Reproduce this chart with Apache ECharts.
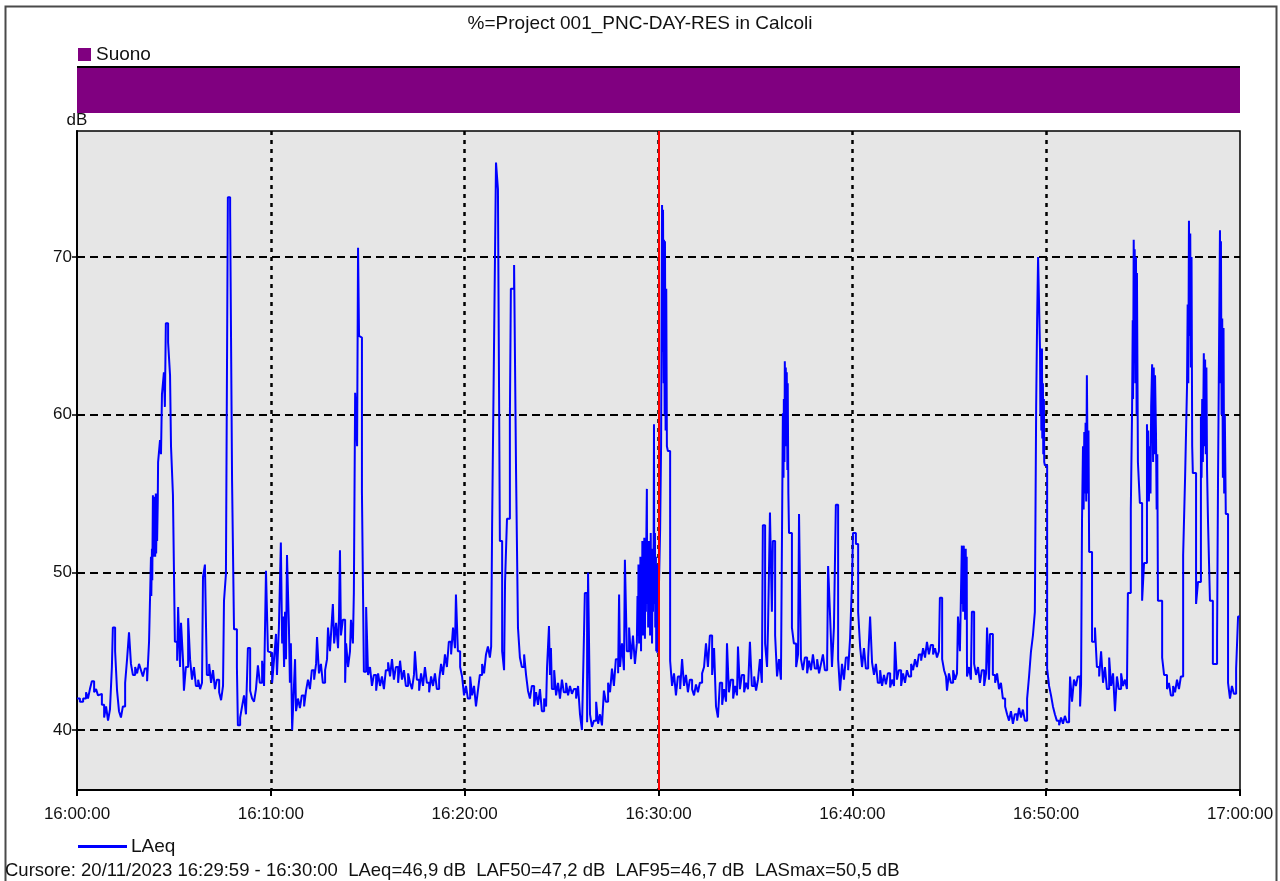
<!DOCTYPE html>
<html>
<head>
<meta charset="utf-8">
<script src="https://cdn.jsdelivr.net/npm/echarts/dist/echarts.min.js"></script>
<style>
  html, body { margin: 0; padding: 0; background: #ffffff; }
  #chart { width: 1280px; height: 881px; }
</style>
</head>
<body>
<div id="chart"></div>
<script>
// LAeq time history, 16:00:00 - 17:00:00, as [seconds after 16:00:00, dB] pairs,
// one array per ten-minute block.
const laeq1600 = [[0,42.0],[9,41.8],[19,42.0],[28,42.4],[34,42.0],[40,42.6],[46,43.1],[53,42.4],[59,42.6],[65,42.2],[71,42.3],[77,41.6],[84,40.8],[90,41.5],[96,40.6],[102,41.3],[108,44.0],[111,46.5],[118,45.0],[124,42.5],[130,41.2],[136,40.8],[142,41.5],[149,43.0],[155,44.5],[161,46.2],[167,44.2],[173,43.5],[180,44.0],[186,43.6],[192,44.2],[198,43.8],[204,43.4],[210,43.9],[217,43.1],[223,45.6],[229,51.0],[230,48.5],[232,51.5],[233,49.5],[235,54.9],[236,51.0],[238,54.5],[239,51.5],[241,54.8],[242,51.0],[244,55.0],[245,51.2],[247,54.0],[248,52.0],[250,54.5],[251,57.0],[257,58.4],[260,57.5],[263,61.3],[269,62.7],[272,60.5],[275,65.8],[282,64.6],[288,62.5],[291,58.0],[297,54.9],[303,45.6],[310,44.4],[313,47.8],[319,44.0],[322,46.8],[328,44.5],[331,42.5],[337,44.0],[344,47.1],[350,44.5],[356,43.2],[362,44.0],[368,42.8],[375,43.2],[381,42.6],[387,43.0],[390,49.7],[396,50.5],[402,43.5],[409,44.2],[415,43.0],[421,43.8],[427,42.6],[433,43.2],[440,42.4],[446,41.9],[452,42.8],[455,48.2],[461,49.9],[467,73.8],[474,72.9],[480,55.8],[486,46.4],[495,44.0],[498,40.3],[505,40.8],[511,41.5],[517,42.2],[523,41.0],[529,45.2],[536,42.5],[542,42.0],[548,41.8],[554,42.6],[560,44.1],[566,43.0],[573,44.4],[579,42.8],[585,50.1],[591,45.0],[597,44.9]];
const laeq1610 = [[604,43.0],[610,44.5],[616,46.1],[619,43.5],[625,46.5],[631,51.9],[635,45.5],[638,47.2],[641,44.0],[644,47.5],[647,44.5],[650,51.1],[656,46.5],[659,43.0],[662,45.5],[666,40.0],[669,41.5],[675,44.5],[678,41.2],[684,42.0],[690,41.4],[696,42.2],[703,41.5],[709,42.5],[715,43.2],[721,42.6],[727,43.8],[734,43.2],[740,44.2],[743,45.9],[749,43.6],[755,44.2],[761,43.0],[768,43.8],[774,44.5],[777,46.5],[783,45.0],[789,47.0],[792,48.0],[796,45.5],[802,46.8],[808,45.2],[811,47.2],[814,51.4],[817,46.0],[823,47.0],[830,43.0],[833,45.5],[839,44.0],[845,45.0],[848,47.0],[854,45.5],[857,48.7],[861,61.4],[867,58.0],[870,70.6],[873,65.0],[876,64.9],[882,55.1],[888,43.7],[895,47.8],[901,43.5],[907,44.0],[913,42.8],[919,43.5],[926,42.5],[932,43.6],[938,42.8],[944,43.4],[950,42.6],[956,43.8],[963,44.3],[969,43.4],[975,44.5],[981,43.2],[987,44.0],[994,43.0],[1000,44.4],[1006,43.2],[1012,43.8],[1018,42.8],[1025,43.6],[1031,43.0],[1037,42.6],[1043,43.5],[1046,45.0],[1052,43.2],[1059,42.5],[1065,43.6],[1071,42.8],[1077,44.0],[1083,43.0],[1090,42.4],[1096,43.4],[1102,42.8],[1108,43.6],[1114,42.6],[1121,43.2],[1127,44.2],[1133,43.5],[1139,44.8],[1145,44.0],[1151,45.6],[1158,44.8],[1164,46.5],[1170,45.2],[1173,48.6],[1179,45.0],[1186,44.0],[1192,43.4],[1198,42.2]];
const laeq1620 = [[1204,42.8],[1210,42.0],[1217,43.4],[1223,42.2],[1229,42.8],[1235,41.5],[1241,42.5],[1247,43.5],[1254,44.2],[1260,43.6],[1266,44.8],[1272,45.3],[1278,44.6],[1282,45.3],[1285,53.1],[1291,64.6],[1297,76.0],[1303,74.3],[1309,52.0],[1316,45.0],[1322,43.8],[1325,49.4],[1331,53.4],[1340,59.8],[1343,68.0],[1353,69.5],[1359,56.5],[1365,46.5],[1371,44.6],[1377,44.0],[1384,44.8],[1390,43.5],[1396,42.5],[1402,42.0],[1408,42.8],[1415,41.5],[1421,42.4],[1427,41.6],[1433,42.6],[1439,41.2],[1446,42.0],[1452,41.5],[1455,44.0],[1461,46.6],[1464,43.5],[1467,45.2],[1470,42.6],[1477,43.8],[1483,42.2],[1489,43.0],[1495,42.0],[1501,43.2],[1507,42.4],[1514,43.0],[1520,42.2],[1526,42.8],[1532,42.3],[1538,42.6],[1545,42.0],[1551,42.8],[1557,41.0],[1563,40.0],[1569,45.7],[1572,48.7],[1579,40.5],[1582,50.0],[1588,41.0],[1594,40.2],[1600,40.6],[1607,41.8],[1613,40.4],[1619,41.0],[1625,40.3],[1631,42.5],[1637,41.8],[1644,43.0],[1650,42.4],[1656,43.9],[1662,42.8],[1668,44.5],[1675,43.6],[1678,48.6],[1681,44.0],[1687,45.5],[1693,43.8],[1696,50.8],[1702,45.0],[1709,46.5],[1715,44.5],[1721,46.0],[1727,44.2],[1733,45.5],[1735,48.5],[1737,46.0],[1738,50.5],[1740,45.5],[1741,49.0],[1743,46.5],[1744,51.0],[1746,45.0],[1747,50.5],[1749,46.5],[1750,52.0],[1752,46.0],[1753,49.5],[1755,47.0],[1756,52.2],[1758,45.8],[1759,50.5],[1761,47.5],[1762,51.5],[1764,55.3],[1765,48.0],[1767,51.8],[1768,46.5],[1770,52.0],[1771,47.5],[1773,51.0],[1774,46.0],[1776,52.5],[1777,47.0],[1779,50.5],[1780,45.5],[1782,51.5],[1783,47.5],[1785,52.0],[1786,59.4],[1787,48.0],[1789,52.5],[1790,46.5],[1792,51.0],[1793,45.0],[1795,50.0],[1796,44.9],[1798,50.5],[1799,46.9]];
const laeq1630 = [[1805,52.7],[1808,58.0],[1811,73.3],[1813,64.0],[1814,73.0],[1816,62.0],[1817,71.1],[1819,60.0],[1820,71.0],[1822,59.0],[1824,68.0],[1826,58.0],[1829,57.7],[1836,44.4],[1842,42.8],[1848,43.6],[1854,42.2],[1860,43.4],[1867,42.6],[1873,44.5],[1879,42.8],[1885,43.5],[1891,42.4],[1897,43.2],[1904,42.6],[1910,42.2],[1916,42.9],[1922,42.4],[1928,43.0],[1935,43.6],[1941,44.0],[1947,45.5],[1953,44.0],[1959,46.0],[1966,43.5],[1972,45.2],[1978,41.5],[1984,40.8],[1990,43.0],[1997,41.6],[2003,42.6],[2009,41.8],[2012,45.5],[2018,42.4],[2024,43.2],[2031,42.0],[2037,42.8],[2043,42.2],[2046,45.3],[2052,42.6],[2058,43.5],[2065,42.4],[2071,43.0],[2077,42.6],[2083,45.6],[2089,42.8],[2096,43.4],[2102,42.5],[2108,43.2],[2114,44.5],[2120,43.0],[2123,53.0],[2130,45.5],[2136,44.0],[2139,46.5],[2145,53.8],[2151,47.5],[2154,52.0],[2161,46.0],[2167,43.4],[2173,44.5],[2179,43.2],[2185,60.1],[2187,56.0],[2188,61.0],[2190,57.0],[2191,63.4],[2193,58.0],[2194,63.0],[2196,59.0],[2197,62.7],[2199,56.5],[2200,62.0],[2202,55.0],[2204,52.5],[2213,46.5],[2219,45.5],[2226,44.0],[2232,44.8],[2235,53.7],[2241,44.5],[2247,43.8],[2253,44.6],[2260,43.6],[2266,44.4],[2272,43.8],[2278,44.8],[2284,43.9],[2291,44.5],[2297,43.6],[2303,44.2],[2309,44.8],[2315,43.8],[2322,44.4],[2325,50.4],[2331,47.3],[2337,44.0],[2343,46.5],[2349,54.3],[2356,44.5],[2362,42.5],[2368,44.2],[2374,43.2],[2380,44.6],[2387,43.8],[2393,45.8]];
const laeq1640 = [[2399,49.4],[2402,52.5],[2411,51.8],[2418,47.5],[2424,45.3],[2430,44.0],[2436,45.2],[2442,43.9],[2449,44.6],[2455,47.2],[2461,44.3],[2467,43.5],[2473,44.2],[2479,43.0],[2486,43.8],[2492,42.8],[2498,43.5],[2504,42.9],[2510,43.6],[2517,42.7],[2523,43.2],[2529,42.8],[2532,45.6],[2538,43.2],[2544,43.8],[2551,42.8],[2557,43.6],[2563,43.0],[2569,43.8],[2575,43.4],[2582,44.2],[2588,43.8],[2594,44.5],[2600,44.0],[2606,44.8],[2613,44.4],[2619,45.2],[2625,44.6],[2631,45.6],[2637,44.8],[2643,45.4],[2650,44.8],[2656,45.2],[2662,44.6],[2668,45.0],[2671,48.4],[2678,44.5],[2684,43.8],[2690,43.4],[2693,42.5],[2699,43.6],[2705,43.0],[2712,43.8],[2718,43.2],[2724,43.6],[2727,47.2],[2733,45.0],[2739,51.7],[2740,48.0],[2742,51.5],[2743,47.5],[2745,51.7],[2746,48.5],[2748,51.2],[2749,47.0],[2751,51.5],[2752,49.0],[2754,51.0],[2755,43.4],[2761,44.0],[2767,43.2],[2770,47.5],[2777,44.2],[2783,43.5],[2789,44.0],[2795,43.0],[2801,43.8],[2808,42.8],[2814,43.6],[2817,46.5],[2823,43.2],[2826,46.1],[2835,43.5],[2842,43.0],[2848,43.6],[2854,42.6],[2860,43.0],[2866,42.0],[2873,41.5],[2879,41.0],[2885,40.6],[2891,41.2],[2897,40.4],[2903,41.0],[2910,40.6],[2916,41.4],[2922,40.8],[2928,41.3],[2934,40.6],[2941,42.0],[2947,43.4],[2953,45.0],[2959,46.0],[2965,47.5],[2969,60.4],[2972,66.0],[2975,70.0],[2981,64.0],[2982,60.0],[2984,63.9],[2985,59.0],[2987,64.2],[2988,58.5],[2990,62.0],[2991,57.5],[2993,61.0],[2994,57.0],[2996,56.8]];
const laeq1650 = [[3003,43.9],[3009,42.8],[3015,42.2],[3021,41.5],[3027,41.0],[3033,40.6],[3040,40.3],[3046,40.8],[3052,40.4],[3058,40.9],[3064,40.5],[3071,41.0],[3074,43.4],[3080,41.8],[3086,43.2],[3092,42.8],[3098,43.4],[3105,41.5],[3108,42.9],[3111,53.4],[3114,58.0],[3116,54.0],[3118,58.9],[3120,55.0],[3122,59.5],[3124,54.5],[3126,62.5],[3129,55.0],[3131,59.0],[3133,51.3],[3142,45.6],[3151,46.5],[3157,44.0],[3164,43.4],[3170,45.0],[3176,43.0],[3182,44.0],[3188,42.6],[3195,44.6],[3201,42.8],[3207,43.6],[3213,41.2],[3219,43.4],[3225,42.6],[3232,43.6],[3238,42.8],[3244,43.2],[3250,42.6],[3253,48.7],[3262,54.0],[3266,60.4],[3268,66.0],[3269,61.0],[3271,71.1],[3273,64.0],[3274,70.5],[3276,62.0],[3278,70.0],[3280,60.0],[3281,69.0],[3284,57.0],[3290,54.4],[3297,48.2],[3303,50.6],[3312,59.4],[3314,55.0],[3316,59.0],[3318,54.5],[3321,58.0],[3323,55.0],[3325,60.5],[3328,63.2],[3331,57.0],[3333,63.0],[3335,57.5],[3337,62.5],[3340,58.7],[3342,54.0],[3344,57.5],[3346,48.2],[3359,44.6],[3365,43.5],[3374,42.6],[3380,43.0],[3386,42.2],[3393,42.8],[3399,42.4],[3405,43.2],[3411,42.6],[3417,43.4],[3424,51.1],[3430,56.0],[3436,61.8],[3438,67.0],[3440,62.0],[3442,72.3],[3444,65.0],[3446,71.5],[3448,63.0],[3450,70.0],[3452,58.0],[3454,56.3],[3464,48.0],[3470,49.4],[3479,59.9],[3481,56.0],[3483,61.0],[3485,57.0],[3488,63.9],[3490,58.0],[3492,63.5],[3494,57.5],[3496,63.0],[3498,56.5],[3501,53.2],[3507,48.2],[3516,44.2],[3529,45.8],[3532,56.0],[3538,71.7],[3540,62.0],[3541,71.0],[3543,60.0],[3545,66.1],[3547,56.0],[3549,65.5],[3551,55.0],[3553,60.0],[3556,53.7],[3563,43.0],[3569,42.0],[3575,42.8],[3581,42.3],[3588,43.9],[3594,47.2],[3600,47.2]];

// "Suono" state band: active over the whole hour.
const suonoSpans = [[0, 1], [3600, 1]];

// Axis ticks and labels
const xTickLabels = ['16:00:00', '16:10:00', '16:20:00', '16:30:00', '16:40:00', '16:50:00', '17:00:00'];
const yTickValues = [40, 50, 60, 70];

// Cursor position (seconds after 16:00:00) and the readout shown under the chart
const cursorSec = 1800;
const titleText = '%=Project 001_PNC-DAY-RES in Calcoli';
const cursorText = 'Cursore: 20/11/2023 16:29:59 - 16:30:00  LAeq=46,9 dB  LAF50=47,2 dB  LAF95=46,7 dB  LASmax=50,5 dB';

const laeq = [].concat(laeq1600, laeq1610, laeq1620, laeq1630, laeq1640, laeq1650);

const FONT = "'Liberation Sans', Arial, sans-serif";
const chart = echarts.init(document.getElementById('chart'));

chart.setOption({
  backgroundColor: '#ffffff',
  animation: false,
  title: {
    text: titleText,
    left: 'center',
    top: 9,
    textStyle: { fontFamily: FONT, fontSize: 19, fontWeight: 'normal', color: '#111' }
  },
  legend: [
    {
      data: ['Suono'],
      left: 78,
      top: 45,
      padding: 0,
      icon: 'rect',
      itemWidth: 13,
      itemHeight: 13,
      textStyle: { fontFamily: FONT, fontSize: 19, color: '#111' },
      selectedMode: false
    },
    {
      data: ['LAeq'],
      left: 78,
      top: 837,
      padding: 0,
      icon: 'rect',
      itemWidth: 49,
      itemHeight: 3,
      textStyle: { fontFamily: FONT, fontSize: 19, color: '#111', padding: [0, 0, 0, -1] },
      selectedMode: false
    }
  ],
  graphic: [
    {
      type: 'rect',
      left: 3, top: 4,
      shape: { width: 1271, height: 885 },
      style: { fill: 'none', stroke: '#4a4a4a', lineWidth: 2 },
      silent: true
    },
    {
      type: 'text',
      left: 5, top: 861,
      style: { text: cursorText, font: '18.5px ' + FONT, fill: '#111' },
      silent: true
    }
  ],
  grid: [
    { left: 77, top: 67, width: 1163, height: 46, show: false },
    {
      left: 77, top: 131, width: 1163, height: 659,
      show: true, backgroundColor: '#e6e6e6', borderColor: '#000', borderWidth: 1.5
    }
  ],
  xAxis: [
    { gridIndex: 0, type: 'value', min: 0, max: 3600, show: false },
    {
      gridIndex: 1, type: 'value', min: 0, max: 3600, interval: 600, z: 3,
      axisLine: { show: true, onZero: false, lineStyle: { color: '#000', width: 2 } },
      axisTick: { show: true, length: 6, lineStyle: { color: '#000', width: 2 } },
      axisLabel: {
        fontFamily: FONT, fontSize: 17, color: '#111', margin: 16,
        showMinLabel: true, showMaxLabel: true,
        formatter: v => xTickLabels[Math.round(v / 600)]
      },
      splitLine: {
        show: true, showMinLine: false, showMaxLine: false,
        lineStyle: { color: '#000', width: 2.5, type: [4, 5] }
      }
    }
  ],
  yAxis: [
    { gridIndex: 0, type: 'value', min: 0, max: 1, show: false },
    {
      gridIndex: 1, type: 'value', min: 36.2, max: 78, z: 3,
      name: 'dB', nameLocation: 'end', nameGap: 2,
      nameTextStyle: { fontFamily: FONT, fontSize: 17, color: '#111', align: 'center', verticalAlign: 'bottom' },
      axisLine: { show: true, lineStyle: { color: '#000', width: 2 } },
      axisTick: { show: true, length: 5, customValues: yTickValues, lineStyle: { color: '#000', width: 1.5 } },
      axisLabel: { fontFamily: FONT, fontSize: 17, color: '#111', margin: 5, customValues: yTickValues },
      splitLine: { show: true, lineStyle: { color: '#000', width: 2, type: [8, 5] } }
    }
  ],
  series: [
    {
      name: 'Suono',
      type: 'line',
      xAxisIndex: 0, yAxisIndex: 0,
      data: suonoSpans,
      symbol: 'none',
      color: '#800080',
      lineStyle: { color: '#000', width: 2 },
      areaStyle: { color: '#800080', opacity: 1 },
      silent: true
    },
    {
      name: 'LAeq',
      type: 'line',
      xAxisIndex: 1, yAxisIndex: 1,
      data: laeq,
      step: 'end',
      symbol: 'none',
      color: '#0000ff',
      lineStyle: { color: '#0000ff', width: 2 },
      silent: true
    },
    {
      name: 'Cursore',
      type: 'line',
      xAxisIndex: 1, yAxisIndex: 1,
      data: [],
      z: 10,
      markLine: {
        silent: true,
        symbol: ['none', 'none'],
        label: { show: false },
        lineStyle: { color: '#ff0000', width: 2, type: 'solid' },
        data: [{ xAxis: cursorSec }]
      }
    }
  ]
});
</script>
</body>
</html>
